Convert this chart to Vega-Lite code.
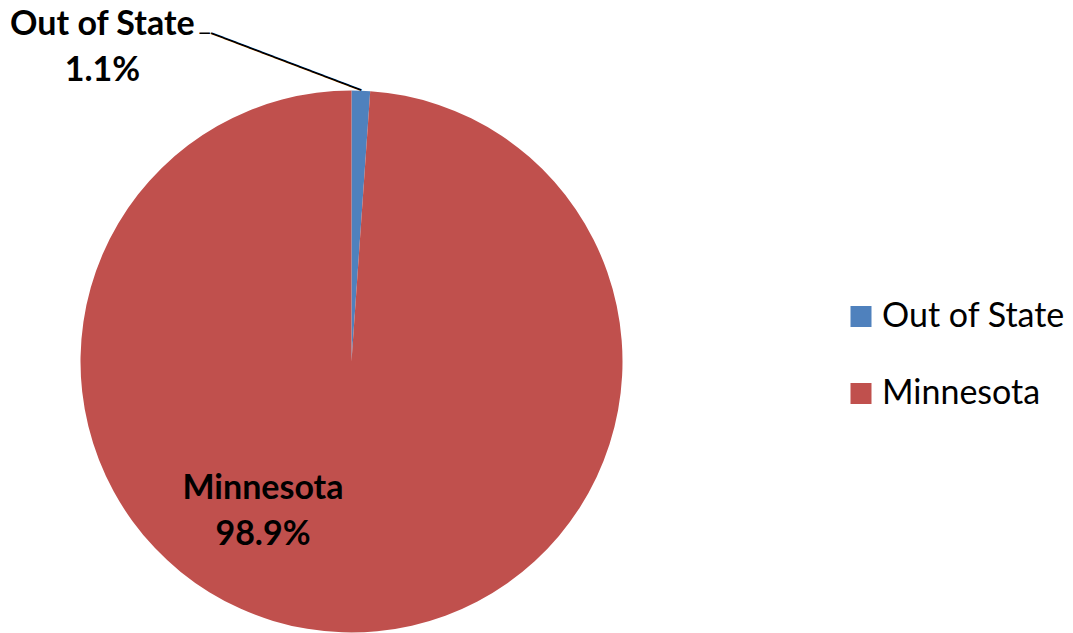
{
  "$schema": "https://vega.github.io/schema/vega-lite/v6.json",
  "width": 542,
  "height": 542,
  "padding": {"left": 80.5, "top": 90.5, "right": 450.5, "bottom": 0.5},
  "autosize": {"type": "none"},
  "background": "white",
  "config": {"view": {"stroke": null}},
  "data": {"values": [
    {"region": "Out of State", "share": 1.1},
    {"region": "Minnesota", "share": 98.9}
  ]},
  "transform": [
    {"calculate": "datum.region + '\\n' + format(datum.share, '.1f') + '%'", "as": "label"}
  ],
  "encoding": {
    "theta": {"field": "share", "type": "quantitative", "stack": true},
    "order": {"field": "share", "type": "quantitative", "sort": "ascending"}
  },
  "layer": [
    {
      "mark": {"type": "arc", "outerRadius": 271},
      "encoding": {
        "color": {
          "field": "region", "type": "nominal",
          "scale": {"domain": ["Out of State", "Minnesota"], "range": ["#4F81BD", "#C0504D"]},
          "legend": {
            "title": null, "orient": "none", "legendX": 763.5, "legendY": 209,
            "symbolType": "square", "symbolSize": 441, "symbolStrokeWidth": 0,
            "labelFont": "Lato", "labelFontSize": 34, "labelColor": "#000", "labelLimit": 400,
            "rowPadding": 43, "labelOffset": 4
          }
        }
      }
    },
    {
      "mark": {"type": "text", "radius": 285, "font": "Lato", "fontWeight": "bold", "fontSize": 34,
               "align": "center", "baseline": "alphabetic", "lineBreak": "\n", "lineHeight": 46,
               "dx": -259, "dy": -42, "color": "#000"},
      "encoding": {
        "detail": {"field": "region", "type": "nominal"},
        "text": {"condition": {"test": "datum.region === 'Out of State'", "field": "label", "type": "nominal"}, "value": ""}
      }
    },
    {
      "mark": {"type": "text", "radius": 160, "font": "Lato", "fontWeight": "bold", "fontSize": 34,
               "align": "center", "baseline": "alphabetic", "lineBreak": "\n", "lineHeight": 46,
               "dx": -83, "dy": -22, "color": "#000"},
      "encoding": {
        "detail": {"field": "region", "type": "nominal"},
        "text": {"condition": {"test": "datum.region === 'Minnesota'", "field": "label", "type": "nominal"}, "value": ""}
      }
    },
    {
      "mark": {"type": "text", "radius": 271, "font": "DejaVu Sans", "fontSize": 22.2, "angle": 20.8,
               "align": "right", "baseline": "middle", "color": "#000"},
      "encoding": {
        "detail": {"field": "region", "type": "nominal"},
        "text": {"condition": {"test": "datum.region === 'Out of State'", "value": "────────────"}, "value": ""}
      }
    },
    {
      "mark": {"type": "text", "radius": 271, "font": "DejaVu Sans", "fontSize": 17,
               "align": "right", "baseline": "middle", "dx": -151, "dy": -56.7, "color": "#000"},
      "encoding": {
        "detail": {"field": "region", "type": "nominal"},
        "text": {"condition": {"test": "datum.region === 'Out of State'", "value": "─"}, "value": ""}
      }
    }
  ]
}
